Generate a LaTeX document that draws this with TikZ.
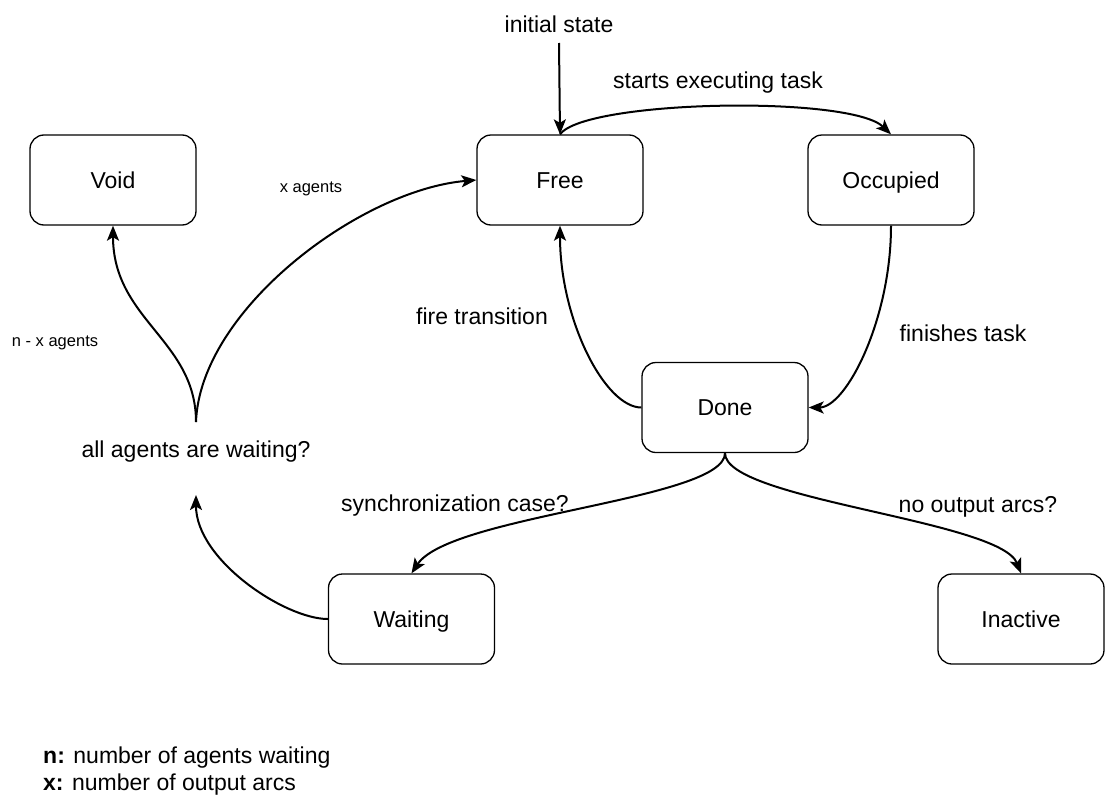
\documentclass[tikz,border=0pt]{standalone}
\usepackage{fontspec}
\setmainfont{Liberation Sans}
\usetikzlibrary{arrows.meta}
\begin{document}
\begin{tikzpicture}[x=1pt,y=-1pt,
  state/.style={draw, line width=1.3pt, rounded corners=14pt, minimum width=166pt,
    minimum height=90pt, inner sep=0pt, text height=16.5pt, text depth=0pt,
    font=\fontsize{23}{27}\selectfont},
  lbl/.style={inner sep=0pt, text height=16.5pt, text depth=0pt,
    font=\fontsize{23}{27}\selectfont},
  small/.style={inner sep=0pt, text height=11.8pt, text depth=0pt,
    font=\fontsize{16.5}{20}\selectfont},
  legend/.style={lbl, anchor=west},
  flow/.style={line width=2pt, -{Stealth[length=15pt,width=12pt,inset=3.5pt]}}]
\useasboundingbox (0,0) rectangle (1105,803);

% states
\node[state] (void)  at (113,180)   {Void};
\node[state] (free)  at (560,180)   {Free};
\node[state] (occ)   at (891,180)   {Occupied};
\node[state] (done)  at (725,407.5) {Done};
\node[state] (wait)  at (411.5,619) {Waiting};
\node[state] (inact) at (1021,619)  {Inactive};

% labels
\node[lbl]   (init)  at (559,24)  {initial state};
\node[lbl]   (start) at (718,80)  {starts executing task};
\node[small] (xag)   at (311,187) {x agents};
\node[small] (nxag)  at (55,341)  {n - x agents};
\node[lbl]   (fire)  at (482,316) {fire transition};
\node[lbl]   (fin)   at (963,333) {finishes task};
\node[lbl]   (allw)  at (196,449) {all agents are waiting?};
\node[lbl]   (sync)  at (455,503) {synchronization case?};
\node[lbl]   (noout) at (978,504) {no output arcs?};

% legend
\node[legend] (legn) at (43,755) {\textbf{n:} number of agents waiting};
\node[legend] (legx) at (43,782) {\textbf{x:} number of output arcs};

% free ends
\coordinate (initend) at (559,43);
\coordinate (fork)    at (196,422);
\coordinate (allin)   at (196,495);

% transitions
\draw[flow] (initend) -- (free.north);
\draw[flow] (free.north) .. controls (585,100) and (850,95) .. (occ.north);
\draw[flow] (occ.south) .. controls (891,320) and (846,407.5) .. (done.east);
\draw[flow] (done.west) .. controls (605,407.5) and (560,320) .. (free.south);
\draw[flow] (fork) .. controls (196,340) and (113,320) .. (void.south);
\draw[flow] (fork) .. controls (200,310) and (360,190) .. (free.west);
\draw[flow] (wait.west) .. controls (285,619) and (196,560) .. (allin);
\draw[flow] (done.south) .. controls (725,500) and (450,515) .. (wait.north);
\draw[flow] (done.south) .. controls (725,500) and (1000,520) .. (inact.north);
\end{tikzpicture}
\end{document}
